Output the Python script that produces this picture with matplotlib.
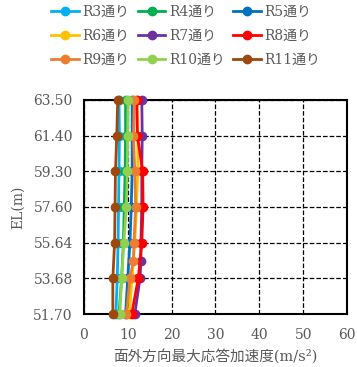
import matplotlib.pyplot as plt

plt.rcParams['font.family'] = ['DejaVu Serif', 'Noto Sans CJK JP']

# EL levels (equally spaced on the chart)
el_labels = ['51.70', '53.68', '55.64', '57.60', '59.30', '61.40', '63.50']
lvl = [0, 1, 2, 3, 4, 5, 6]
lvl_mid = [0, 1, 1.5, 2, 3, 4, 5, 6]   # R7 / R9 have an extra point

names = ['R3通り', 'R4通り', 'R5通り', 'R6通り', 'R7通り', 'R8通り',
         'R9通り', 'R10通り', 'R11通り']
colors = ['#00B0F0', '#00B050', '#0070C0', '#FFC000', '#7030A0', '#FF0000',
          '#ED7D31', '#92D050', '#9E480E']

r3 = [7.3, 7.6, 7.8, 7.9, 8.0, 8.1, 8.0]
r4 = [8.0, 8.6, 9.0, 9.2, 9.4, 9.5, 9.5]
r5 = [9.5, 10.0, 10.5, 10.8, 11.0, 11.0, 11.0]
r6 = [10.3, 11.0, 11.6, 12.0, 12.3, 12.3, 12.2]
r7 = [11.6, 12.8, 13.0, 13.0, 13.2, 13.2, 13.3, 13.2]
r8 = [10.9, 12.4, 13.2, 13.5, 13.4, 12.2, 12.0]
r9 = [9.7, 10.5, 11.3, 11.4, 11.8, 11.6, 11.3, 11.5]
r10 = [8.2, 8.6, 9.1, 9.7, 9.9, 10.0, 10.1]
r11 = [6.6, 6.6, 7.0, 7.1, 7.2, 7.5, 7.7]

series = [(r3, lvl), (r4, lvl), (r5, lvl), (r6, lvl), (r7, lvl_mid), (r8, lvl),
          (r9, lvl_mid), (r10, lvl), (r11, lvl)]

fig = plt.figure(figsize=(3.57, 3.67), dpi=100)
ax = fig.add_axes([0.235, 0.144, 0.737, 0.584])

lines = []
for i in range(len(series)):
    xs, ys = series[i]
    l, = ax.plot(xs, ys, color=colors[i], lw=2, marker='o', ms=6,
                 label=names[i], clip_on=False, zorder=3)
    lines.append(l)

ax.set_xlim(0, 60)
ax.set_ylim(0, 6)
ax.set_xticks(range(0, 61, 10))
ax.set_yticks(lvl)
ax.set_yticklabels(el_labels)
ax.grid(True, color='black', linestyle='--', lw=0.9)
ax.tick_params(length=0, labelsize=10, labelcolor='#595959', pad=8)
ax.tick_params(axis='x', pad=10)
for s in ax.spines.values():
    s.set_linewidth(1.5)
    s.set_color('black')

ax.set_xlabel('面外方向最大応答加速度(m/s²)', fontsize=10.5, color='#595959', labelpad=5)
ax.set_ylabel('EL(m)', fontsize=10, color='#595959', labelpad=6)

# legend fills row by row
order = [0, 3, 6, 1, 4, 7, 2, 5, 8]
fig.legend([lines[k] for k in order], [names[k] for k in order],
           loc='upper center', bbox_to_anchor=(0.52, 1.02), ncol=3, frameon=False,
           fontsize=10, labelcolor='#595959', handlelength=2.0, handletextpad=0.25,
           columnspacing=0.6, labelspacing=0.7)

fig.savefig('out.png')
